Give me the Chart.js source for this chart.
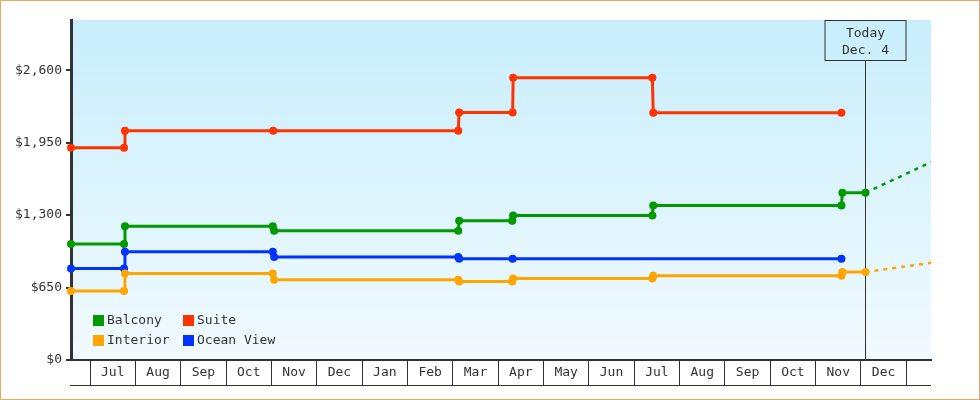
<!DOCTYPE html>
<html>
<head>
<meta charset="utf-8">
<title>Cabin prices</title>
<script src="https://cdn.jsdelivr.net/npm/chart.js@4.4.0/dist/chart.umd.min.js"></script>
<style>
    html, body { margin: 0; padding: 0; background: #fff; }
    #wrap { width: 980px; height: 400px; box-sizing: border-box; border: 1px solid #e9a962; }
</style>
</head>
<body>
<div id="wrap"><canvas id="priceChart"></canvas></div>
<script>
// x values are in months, 0 = start of July
var months = ["Jul", "Aug", "Sep", "Oct", "Nov", "Dec", "Jan", "Feb", "Mar", "Apr", "May", "Jun",
              "Jul", "Aug", "Sep", "Oct", "Nov", "Dec"];
var yTicks = [0, 650, 1300, 1950, 2600];
var xMin = -0.42, xMax = 18.545;
var todayPos = 17.10;
var todayText = ["Today", "Dec. 4"];

var balconyX = [-0.42, 0.75, 0.77, 4.03, 4.06, 8.12, 8.14, 9.31, 9.33, 12.40, 12.42, 16.57, 16.59, 17.10];
var balconyY = [1040, 1040, 1200, 1200, 1160, 1160, 1250, 1250, 1296, 1296, 1385, 1385, 1500, 1500];

var suiteX = [-0.42, 0.75, 0.77, 4.04, 8.12, 8.14, 9.32, 9.33, 12.40, 12.42, 16.57];
var suiteY = [1905, 1905, 2056, 2056, 2056, 2220, 2220, 2532, 2532, 2218, 2218];

var interiorX = [-0.42, 0.75, 0.77, 4.03, 4.06, 8.12, 8.14, 9.31, 9.33, 12.40, 12.42, 16.57, 16.59, 17.10];
var interiorY = [618, 618, 775, 775, 720, 720, 705, 705, 730, 730, 755, 755, 790, 790];

var oceanX = [-0.42, 0.75, 0.77, 4.03, 4.06, 8.12, 8.14, 9.32, 16.57];
var oceanY = [820, 820, 970, 970, 925, 925, 908, 908, 908];

// dotted forecasts from today to the right edge
var balconyProjX = [17.10, 18.545];
var balconyProjY = [1500, 1775];
var interiorProjX = [17.10, 18.545];
var interiorProjY = [790, 872];

var FONT = "DejaVu Sans Mono";
var INK = "#333";

function pts(xs, ys) {
    return xs.map(function (x, i) { return { x: x, y: ys[i] }; });
}

function series(label, color, xs, ys) {
    return {
        label: label,
        data: pts(xs, ys),
        borderColor: color,
        backgroundColor: color,
        borderWidth: 3,
        pointRadius: 4,
        pointStyle: "circle",
        pointBorderWidth: 0,
        tension: 0,
        clip: false,
    };
}

function projection(color, xs, ys) {
    return {
        label: "",
        data: pts(xs, ys),
        borderColor: color,
        borderWidth: 2.5,
        borderDash: [4, 5],
        pointRadius: 0,
        tension: 0,
    };
}

var bgPlugin = {
    id: "bg",
    beforeDraw: function (chart) {
        var a = chart.chartArea, ctx = chart.ctx;
        var g = ctx.createLinearGradient(0, a.top, 0, a.bottom);
        g.addColorStop(0, "#c8eefc");
        g.addColorStop(1, "#f1faff");
        ctx.save();
        ctx.fillStyle = g;
        ctx.fillRect(a.left, a.top, a.right - a.left, a.bottom - a.top);
        ctx.restore();
    },
};

var todayPlugin = {
    id: "today",
    beforeDatasetsDraw: function (chart) {
        var a = chart.chartArea, ctx = chart.ctx;
        var x = Math.round(chart.scales.x.getPixelForValue(todayPos)) + 0.5;
        var w = 81, h = 41;
        ctx.save();
        ctx.strokeStyle = INK;
        ctx.lineWidth = 1;
        ctx.beginPath();
        ctx.moveTo(x, a.top + h);
        ctx.lineTo(x, a.bottom);
        ctx.stroke();
        ctx.strokeRect(Math.round(x - w / 2), a.top + 0.5, w, h - 1);
        ctx.fillStyle = INK;
        ctx.font = "13px '" + FONT + "'";
        ctx.textAlign = "center";
        ctx.textBaseline = "middle";
        ctx.fillText(todayText[0], x, a.top + 14);
        ctx.fillText(todayText[1], x, a.top + 31);
        ctx.restore();
    },
};

var legendPlugin = {
    id: "innerLegend",
    afterDatasetsDraw: function (chart) {
        var a = chart.chartArea, ctx = chart.ctx;
        var ds = chart.data.datasets;
        // grid: Balcony, Suite / Interior, Ocean View
        var order = [0, 1, 2, 3];
        var cols = [a.left + 22, a.left + 112];
        var rows = [a.bottom - 45, a.bottom - 25];
        ctx.save();
        ctx.font = "13px '" + FONT + "'";
        ctx.textBaseline = "middle";
        ctx.textAlign = "left";
        order.forEach(function (k, i) {
            var bx = cols[i % 2], by = rows[Math.floor(i / 2)];
            ctx.fillStyle = ds[k].borderColor;
            ctx.fillRect(bx, by, 11, 11);
            ctx.fillStyle = INK;
            ctx.fillText(ds[k].label, bx + 14, by + 6);
        });
        ctx.restore();
    },
};

var baseLinePlugin = {
    id: "baseLine",
    afterDraw: function (chart) {
        var a = chart.chartArea, ctx = chart.ctx, sx = chart.scales.x;
        var y = sx.top + 25 + 0.5;
        ctx.save();
        ctx.strokeStyle = INK;
        ctx.lineWidth = 1;
        ctx.beginPath();
        ctx.moveTo(a.left - 1, y);
        ctx.lineTo(a.right, y);
        ctx.stroke();
        ctx.restore();
    },
};

window.onload = function () {
    var ctx = document.getElementById("priceChart").getContext("2d");
    new Chart(ctx, {
        type: "line",
        data: {
            datasets: [
                series("Balcony", "#009900", balconyX, balconyY),
                series("Suite", "#ff3300", suiteX, suiteY),
                series("Interior", "#ffa500", interiorX, interiorY),
                series("Ocean View", "#0033ff", oceanX, oceanY),
                projection("#009900", balconyProjX, balconyProjY),
                projection("#ffa500", interiorProjX, interiorProjY),
            ],
        },
        options: {
            responsive: true,
            maintainAspectRatio: false,
            animation: false,
            layout: { padding: { left: 0, right: 48, top: 19, bottom: 0 } },
            plugins: {
                legend: { display: false },
                tooltip: { enabled: false },
            },
            scales: {
                x: {
                    type: "linear",
                    min: xMin,
                    max: xMax,
                    afterBuildTicks: function (axis) {
                        axis.ticks = months.map(function (m, i) { return { value: i + 0.5 }; });
                    },
                    afterFit: function (axis) { axis.height = 39; },
                    ticks: {
                        autoSkip: false,
                        maxRotation: 0,
                        padding: -20,
                        color: INK,
                        font: { family: FONT, size: 13 },
                        callback: function (v, i) { return months[i]; },
                    },
                    grid: {
                        offset: true,
                        drawOnChartArea: false,
                        drawTicks: true,
                        tickLength: 25,
                        color: INK,
                        lineWidth: 1,
                    },
                    border: { display: true, color: INK, width: 2 },
                },
                y: {
                    min: 0,
                    max: 3050,
                    afterBuildTicks: function (axis) {
                        axis.ticks = yTicks.map(function (v) { return { value: v }; });
                    },
                    afterFit: function (axis) { axis.width = 70; },
                    ticks: {
                        padding: 4,
                        color: INK,
                        font: { family: FONT, size: 13 },
                        callback: function (v) { return "$" + v.toLocaleString("en-US"); },
                    },
                    grid: {
                        drawOnChartArea: false,
                        drawTicks: true,
                        tickLength: 5,
                        color: INK,
                        lineWidth: 2,
                    },
                    border: { display: true, color: INK, width: 3 },
                },
            },
        },
        plugins: [bgPlugin, todayPlugin, legendPlugin, baseLinePlugin],
    });
};
</script>
</body>
</html>
